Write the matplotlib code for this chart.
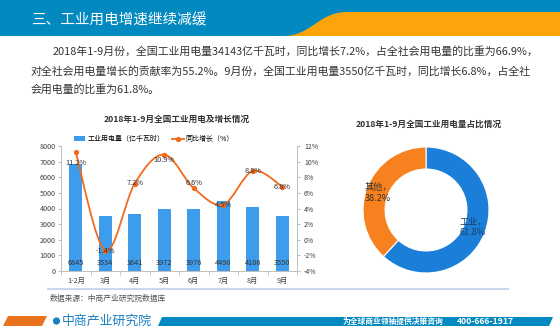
import numpy as np
import matplotlib
matplotlib.use('Agg')
import matplotlib.pyplot as plt
from matplotlib.path import Path
from matplotlib.patches import PathPatch, Polygon, Rectangle, Circle
from matplotlib.ticker import FuncFormatter, MultipleLocator

plt.rcParams['font.family'] = ['Noto Sans CJK SC', 'DejaVu Sans']

months = ['1-2月', '3月', '4月', '5月', '6月', '7月', '8月', '9月']
power = [6845, 3534, 3641, 3972, 3976, 4490, 4106, 3550]
growth = [11.2, -1.4, 7.2, 10.9, 6.6, 4.5, 8.8, 6.8]
share_names = ['工业', '其他']
share = [61.8, 38.2]

header = '三、工业用电增速继续减缓'
para = ['2018年1-9月份，全国工业用电量34143亿千瓦时，同比增长7.2%，占全社会用电量的比重为66.9%，',
        '对全社会用电量增长的贡献率为55.2%。9月份，全国工业用电量3550亿千瓦时，同比增长6.8%，占全社',
        '会用电量的比重为61.8%。']

W, H = 560, 331
fig = plt.figure(figsize=(W / 100, H / 100), dpi=100)

def box(l, t, r, b):
    return [l / W, 1 - b / H, (r - l) / W, (b - t) / H]

# background layer in pixel coords
bg = fig.add_axes([0, 0, 1, 1])
bg.set_xlim(0, W)
bg.set_ylim(H, 0)
bg.axis('off')

bg.add_patch(Rectangle((0, 0), W, 36, color='#0189c0', lw=0))
verts = [(283, 36), (312, 36), (318, 12), (347, 12), (W, 12), (W, 36), (283, 36)]
codes = [Path.MOVETO, Path.CURVE4, Path.CURVE4, Path.CURVE4, Path.LINETO, Path.LINETO, Path.CLOSEPOLY]
bg.add_patch(PathPatch(Path(verts, codes), color='#fca40a', lw=0))
bg.text(31, 20, header, color='white', fontsize=10.5, va='center', fontweight='medium')

bg.text(53, 51, para[0], fontsize=7.85, color='#333333', va='center')
bg.text(31, 71, para[1], fontsize=7.85, color='#333333', va='center')
bg.text(31, 89, para[2], fontsize=7.85, color='#333333', va='center')

bg.plot([48, 508], [289, 289], color='#c9d8ec', lw=1.5)
bg.text(50, 299, '数据来源：中商产业研究院数据库', fontsize=5.6, color='#555555', va='center')

# footer
bg.add_patch(Polygon([(3, 326), (8, 316), (47, 316), (42, 326)], color='#e8731c', lw=0))
bg.add_patch(Polygon([(158, 326), (162, 317), (553, 317), (549, 326)], color='#0189c0', lw=0))
bg.add_patch(Circle((56.5, 321), 3.6, color='#1a7ec2', lw=0))
bg.text(62, 321, '中商产业研究院', fontsize=9.3, color='#1a7ec2', va='center')
bg.text(343, 321.5, '为全球商业领袖提供决策咨询', fontsize=5.6, color='white', va='center', fontweight='bold')
bg.text(457, 321.5, '400-666-1917', fontsize=6.2, color='white', va='center', fontweight='bold')

# titles
bg.text(177, 119, '2018年1-9月全国工业用电及增长情况', fontsize=6.2, fontweight='bold', color='#333333',
        ha='center', va='center')
bg.text(429, 124, '2018年1-9月全国工业用电量占比情况', fontsize=6.2, fontweight='bold', color='#333333',
        ha='center', va='center')

# bar + line chart
ax = fig.add_axes(box(61, 146, 297, 271))
x = np.arange(len(months))
bars = ax.bar(x, power, width=0.44, color='#3e9cec', zorder=2, label='工业用电量（亿千瓦时）')
ax.set_xlim(-0.5, len(months) - 0.5)
ax.set_ylim(0, 8000)
ax.yaxis.set_major_locator(MultipleLocator(1000))
ax.set_xticks(x)
ax.set_xticklabels(months)
ax.set_xticks(np.arange(-0.5, len(months)), minor=True)
ax.tick_params(axis='x', which='major', length=0, labelsize=5.2, pad=4, colors='#404040')
ax.tick_params(axis='x', which='minor', length=3, color='#bfbfbf')
ax.tick_params(axis='y', length=2, labelsize=5.2, pad=2, colors='#404040', color='#bfbfbf')
for s in ['top', 'right']:
    ax.spines[s].set_visible(False)
for s in ['left', 'bottom']:
    ax.spines[s].set_color('#bfbfbf')
    ax.spines[s].set_linewidth(0.7)
for xi, v in zip(x, power):
    ax.annotate(str(v), (xi, 0), xytext=(0, 6), textcoords='offset points', ha='center', va='center',
                fontsize=5.3, color='#333333')

ax2 = ax.twinx()
ax2.set_ylim(-4, 12)
ax2.yaxis.set_major_locator(MultipleLocator(2))
ax2.yaxis.set_major_formatter(FuncFormatter(lambda v, p: '%d%%' % v))
ax2.tick_params(axis='y', length=2, labelsize=5.0, pad=3, colors='#404040', color='#bfbfbf')
for s in ['top', 'left', 'bottom']:
    ax2.spines[s].set_visible(False)
ax2.spines['right'].set_color('#bfbfbf')
ax2.spines['right'].set_linewidth(0.7)

# smooth line (Catmull-Rom bezier through the points)
g = np.array(growth)
pts = np.column_stack([x, g])
v = [tuple(pts[0])]
c = [Path.MOVETO]
for i in range(len(pts) - 1):
    p0 = pts[i - 1] if i > 0 else pts[i]
    p3 = pts[i + 2] if i + 2 < len(pts) else pts[i + 1]
    c1 = pts[i] + (pts[i + 1] - p0) / 6
    c2 = pts[i + 1] - (p3 - pts[i]) / 6
    v += [tuple(c1), tuple(c2), tuple(pts[i + 1])]
    c += [Path.CURVE4] * 3
ax2.add_patch(PathPatch(Path(v, c), fill=False, edgecolor='#f26a1b', lw=1.3, zorder=3))
ax2.plot(x, g, ls='none', marker='o', ms=2.8, color='#f26a1b', zorder=4)
ax2.plot([], [], color='#f26a1b', lw=1.3, marker='o', ms=2.8, label='同比增长（%）')

label_dy = [-8, 0, 0, -4, 4, 0, 0, 0]
for xi, gv, dy in zip(x, g, label_dy):
    ax2.annotate('%.1f%%' % gv, (xi, gv), xytext=(0, dy), textcoords='offset points', ha='center',
                 va='center', fontsize=5.3, color='#333333', zorder=5)

h1, l1 = ax.get_legend_handles_labels()
h2, l2 = ax2.get_legend_handles_labels()
leg = fig.legend(h1 + h2, l1 + l2, loc='center', bbox_to_anchor=(154 / W, 1 - 139 / H), ncol=2,
                 frameon=False, fontsize=5.0, handlelength=1.6, handleheight=0.7, columnspacing=1.2,
                 handletextpad=0.3)

# donut
axp = fig.add_axes(box(356, 140, 496, 280))
axp.pie(share, colors=['#1b7fd9', '#f7811f'], startangle=90, counterclock=False,
        radius=1, wedgeprops=dict(width=0.35, edgecolor='white', linewidth=0.8))
axp.set_xlim(-1.111, 1.111)
axp.set_ylim(-1.111, 1.111)
axp.set_aspect('equal')
axp.axis('off')
fig.text(365 / W, 1 - 193 / H, '%s，\n%.1f%%' % (share_names[1], share[1]), fontsize=6.6, color='#333333',
         va='center', linespacing=1.35)
fig.text(459 / W, 1 - 227 / H, '%s，\n%.1f%%' % (share_names[0], share[0]), fontsize=6.6, color='#1f3f66',
         va='center', linespacing=1.35)

fig.savefig('out.png', dpi=100)
